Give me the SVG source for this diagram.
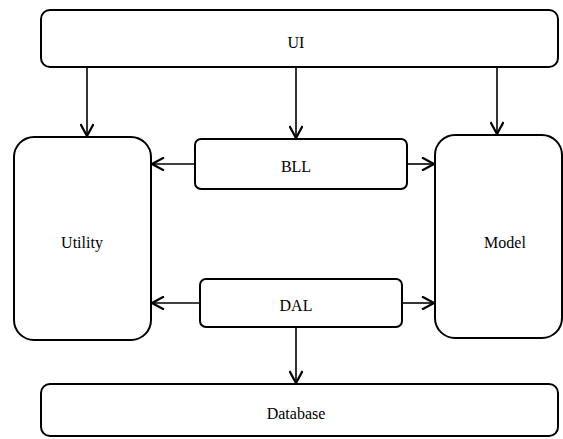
<svg xmlns="http://www.w3.org/2000/svg" width="563" height="439" viewBox="0 0 563 439">
<defs>
<style>
.box{fill:#fff;stroke:#000;stroke-width:2}
.lbl{font-family:"Liberation Serif","Times New Roman",serif;font-size:16px;fill:#000;text-anchor:middle;dominant-baseline:central}
.edge{stroke:#000;stroke-width:1.6;fill:none;marker-end:url(#ah)}
</style>
<marker id="ah" viewBox="0 0 14 14" refX="13" refY="7" markerWidth="14" markerHeight="14" markerUnits="userSpaceOnUse" orient="auto">
<path d="M1,0.5 L13,7 L1,13.5" fill="none" stroke="#000" stroke-width="2.2"/>
</marker>
</defs>
<rect width="563" height="439" fill="#fff"/>
<g id="connectors">
<line class="edge" x1="87" y1="67" x2="87" y2="136"/>
<line class="edge" x1="296" y1="67" x2="296" y2="138"/>
<line class="edge" x1="497" y1="67" x2="497" y2="134"/>
<line class="edge" x1="195" y1="164" x2="152" y2="164"/>
<line class="edge" x1="407" y1="164" x2="434" y2="164"/>
<line class="edge" x1="200" y1="303" x2="152" y2="303"/>
<line class="edge" x1="402" y1="303" x2="434" y2="303"/>
<line class="edge" x1="296" y1="327" x2="296" y2="383"/>
</g>
<g id="ui"><rect class="box" x="41" y="10" width="517" height="57" rx="9"/><text class="lbl" x="296" y="42">UI</text></g>
<g id="utility"><rect class="box" x="14" y="137" width="137" height="203" rx="20"/><text class="lbl" x="82" y="242">Utility</text></g>
<g id="model"><rect class="box" x="435" y="135" width="127" height="203" rx="20"/><text class="lbl" x="505" y="242">Model</text></g>
<g id="bll"><rect class="box" x="195" y="139" width="212" height="50" rx="6"/><text class="lbl" x="296" y="166">BLL</text></g>
<g id="dal"><rect class="box" x="200" y="279" width="202" height="48" rx="6"/><text class="lbl" x="296" y="305">DAL</text></g>
<g id="database"><rect class="box" x="41" y="384" width="517" height="52" rx="9"/><text class="lbl" x="296" y="413">Database</text></g>
</svg>
